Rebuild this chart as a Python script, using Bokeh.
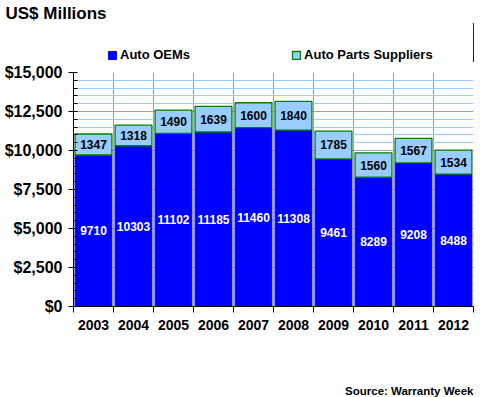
from bokeh.plotting import figure
from bokeh.layouts import column
from bokeh.models import (ColumnDataSource, FixedTicker, NumeralTickFormatter, Legend, LegendItem,
                          CustomJSTickFormatter)
from bokeh.core.properties import value
from bokeh.embed import file_html
from bokeh.resources import INLINE

years = ["2003", "2004", "2005", "2006", "2007", "2008", "2009", "2010", "2011", "2012"]
oems = [9710, 10303, 11102, 11185, 11460, 11308, 9461, 8289, 9208, 8488]
suppliers = [1347, 1318, 1490, 1639, 1600, 1840, 1785, 1560, 1567, 1534]
y_ticks = [0, 2500, 5000, 7500, 10000, 12500, 15000]

FONT = "Liberation Sans"
BLUE = "#0000FF"
LIGHT = "#99CCFF"
GREEN = "#008000"

n = len(years)
xc = [i + 0.5 for i in range(n)]
tops = [o + s for o, s in zip(oems, suppliers)]
src = ColumnDataSource(dict(
    x=xc, oem=oems, sup=suppliers, top=tops,
    oem_mid=[o / 2 for o in oems],
    sup_mid=[o + s / 2 for o, s in zip(oems, suppliers)],
    oem_lbl=[str(o) for o in oems], sup_lbl=[str(s) for s in suppliers],
))

# ---------- header: title + legend (its frame is aligned with the chart's frame) ----------
head = figure(width=480, height=62, output_backend="svg", toolbar_location=None,
              x_axis_type=None, y_axis_type=None, x_range=(-3, -2), y_range=(0, 1),
              min_border=0)
head.outline_line_color = None
head.background_fill_color = "white"
head.border_fill_color = "white"
head.title.text = "US$ Millions"
head.title.text_font = FONT
head.title.text_font_style = "bold"
head.title.text_font_size = "17px"
head.title.text_color = "black"
head.title.align = "left"
head.title.offset = -68
head.title.standoff = 2

# legend keys: same data, drawn outside the header's visible range
k_oem = head.vbar(x="x", top="oem", width=0.92, source=src, fill_color=BLUE, line_color=BLUE)
k_sup = head.vbar(x="x", top="top", bottom="oem", width=0.92, source=src,
                  fill_color=LIGHT, line_color=GREEN, line_width=1.3)
legend = Legend(items=[LegendItem(label="Auto OEMs", renderers=[k_oem]),
                       LegendItem(label="Auto Parts Suppliers", renderers=[k_sup])],
                orientation="horizontal", location=(34, 0),
                label_text_font=FONT, label_text_font_style="bold", label_text_font_size="13px",
                label_text_color="black", label_height=10,
                glyph_width=10, glyph_height=10, label_standoff=3, spacing=101,
                padding=0, margin=0, border_line_color=None, background_fill_alpha=0)
head.add_layout(legend)

# ---------- main chart ----------
p = figure(width=480, height=278, output_backend="svg", toolbar_location=None,
           x_range=(0, n), y_range=(0, 15000),
           min_border_left=73, min_border_right=5, min_border_top=10, min_border_bottom=34)
p.title.text = ""
p.title.standoff = 0
p.outline_line_color = None
p.background_fill_color = "white"
p.border_fill_color = "white"

p.vbar(x="x", top="oem", bottom=0, width=0.92, source=src,
       fill_color=BLUE, line_color=BLUE, line_width=1)
p.vbar(x="x", top="top", bottom="oem", width=0.92, source=src,
       fill_color=LIGHT, line_color=GREEN, line_width=1.3)

p.text(x="x", y="oem_mid", text="oem_lbl", source=src, text_color="white",
       text_font=value(FONT), text_font_style="bold", text_font_size="12px",
       text_align="center", text_baseline="middle")
p.text(x="x", y="sup_mid", text="sup_lbl", source=src, text_color="black",
       text_font=value(FONT), text_font_style="bold", text_font_size="12px",
       text_align="center", text_baseline="middle")

# y axis
p.yaxis.ticker = FixedTicker(ticks=y_ticks, minor_ticks=list(range(0, 15001, 500)))
p.yaxis.formatter = NumeralTickFormatter(format="$0,0")
p.yaxis.major_label_text_font = FONT
p.yaxis.major_label_text_font_style = "bold"
p.yaxis.major_label_text_font_size = "16px"
p.yaxis.major_label_text_color = "black"
p.yaxis.major_label_standoff = 6
p.yaxis.major_tick_out = 5
p.yaxis.major_tick_in = 0
p.yaxis.minor_tick_in = 4
p.yaxis.minor_tick_out = 0
p.yaxis.axis_line_color = "black"
p.yaxis.major_tick_line_color = "black"
p.yaxis.minor_tick_line_color = "black"

# x axis
p.xaxis.ticker = FixedTicker(ticks=xc, minor_ticks=list(range(0, n + 1)))
p.xaxis.formatter = CustomJSTickFormatter(args=dict(years=years),
                                          code="return years[Math.floor(tick)];")
p.xaxis.major_label_text_font = FONT
p.xaxis.major_label_text_font_style = "bold"
p.xaxis.major_label_text_font_size = "14px"
p.xaxis.major_label_text_color = "black"
p.xaxis.major_label_standoff = 7
p.xaxis.major_tick_out = 0
p.xaxis.major_tick_in = 0
p.xaxis.minor_tick_out = 6
p.xaxis.minor_tick_in = 0
p.xaxis.axis_line_color = "black"
p.xaxis.minor_tick_line_color = "black"

# grids
p.ygrid.grid_line_color = "#A0A0A0"
p.ygrid.minor_grid_line_color = "#99CCFF"
p.xgrid.ticker = FixedTicker(ticks=list(range(0, n + 1)))
p.xgrid.grid_line_color = "#A0A0A0"

# ---------- footer: source ----------
foot = figure(width=480, height=57, output_backend="svg", toolbar_location=None,
              x_axis_type=None, y_axis_type=None, x_range=(0, 1), y_range=(0, 1),
              min_border=0, min_border_right=7, title_location="below")
foot.outline_line_color = None
foot.background_fill_color = "white"
foot.border_fill_color = "white"
foot.title.text = "Source: Warranty Week"
foot.title.text_font = FONT
foot.title.text_font_style = "bold"
foot.title.text_font_size = "11.5px"
foot.title.text_color = "black"
foot.title.align = "right"
foot.title.standoff = 2

layout = column(head, p, foot, spacing=0)
open("out.html", "w").write(file_html(layout, INLINE))
